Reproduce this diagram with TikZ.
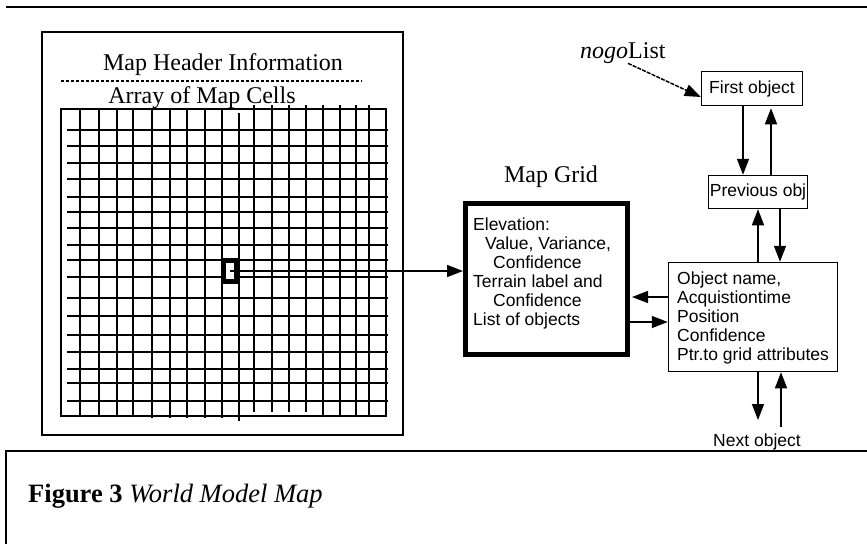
\documentclass[tikz,border=0pt]{standalone}
\usepackage{fontspec}
\setmainfont{Liberation Serif}
\setsansfont{Liberation Sans}
\usetikzlibrary{arrows.meta}
\begin{document}
\begin{tikzpicture}[x=1pt,y=-1pt,
  box/.style={draw, line width=1.5pt, inner sep=0pt},
  gridline/.style={line width=1.6pt},
  arr/.style={line width=1.5pt, -{Triangle[length=16pt,width=12pt]}},
  serif/.style={font=\fontsize{24}{28}\selectfont, inner sep=0pt},
  sans/.style={font=\sffamily\fontsize{17.5}{19}\selectfont, inner sep=0pt},
]
\useasboundingbox (0,0) rectangle (867,544);
% top rule
\draw[line width=2pt] (6,7) -- (867,7);
% map box
\node[box, minimum width=361pt, minimum height=403pt] (mapbox) at (222.5,233.5) {};
\node[serif, anchor=base] (hdr) at (223,70) {Map Header Information};
\draw[line width=1.3pt, dash pattern=on 2.5pt off 2.5pt] (61,81) -- (362,81);
\node[serif, anchor=base] (arrtxt) at (202,103) {Array of Map Cells};
% grid
\draw[gridline] (61,109) rectangle (386,416);
\foreach \x/\a/\b in {80/109/416,99/109/416,117/109/416,133/109/416,152/109/418,170/109/418,187/109/418,205/109/418,222/109/418,239/113/421,254/105/412,272/105/412,289/105/412,306/105/412,323/105/416,340/105/416,356/105/416,369/105/416}
  \draw[gridline] (\x,\a) -- (\x,\b);
\foreach \y in {130,146,163,179,197,212,228,245,260,277,298,316,335,352,369,383,401}
  \draw[gridline] (67,\y) -- (388,\y);
% selected cell
\node[draw, line width=4.5pt, fill=white, minimum width=12pt, minimum height=21pt, inner sep=0pt] (cell) at (230,271) {};
% map grid box
\node[draw, line width=5pt, minimum width=162pt, minimum height=151pt, inner sep=0pt] (mg) at (546.5,279) {};
\node[serif, anchor=base] (mgt) at (551,182) {Map Grid};
\foreach \i/\xx/\t in {1/473/{Elevation:},2/485/{Value, Variance,},3/493/{Confidence},4/473/{Terrain label and},5/493/{Confidence},6/473/{List of objects}}
  \node[sans, anchor=base west] (mg\i) at (\xx,{230+19*(\i-1)}) {\t};
\draw[arr] (cell.center) -- (mg.west |- cell.center);
% object box
\node[box, minimum width=169pt, minimum height=109pt] (obj) at (753,317) {};
\foreach \i/\t in {1/{Object name,},2/{Acquistiontime},3/{Position},4/{Confidence},5/{Ptr.to grid attributes}}
  \node[sans, anchor=base west] (obj\i) at (677,{284+19*(\i-1)}) {\t};
% list boxes
\node[box, sans, minimum width=101pt, minimum height=34pt] (first) at (752,88.5) {First object};
\node[box, sans, minimum width=99pt, minimum height=33pt] (prev) at (758,192) {Previous obj};
\node[serif, anchor=base west] (nogo) at (580,58) {\textit{nogo}List};
\draw[arr, dash pattern=on 4pt off 1.2pt] (nogo.south -| 628,0) -- (first.west |- 0,97);
\draw[arr] (first.south -| 743,0) -- (prev.north -| 743,0);
\draw[arr, shorten >=2pt] (prev.north -| 771,0) -- (first.south -| 771,0);
\draw[arr] (obj.north -| 758,0) -- (prev.south -| 758,0);
\draw[arr] (prev.south -| 780,0) -- (obj.north -| 780,0);
\draw[arr, shorten >=2pt] (obj.west |- 0,297) -- (mg.east |- 0,297);
\draw[arr] (mg.east |- 0,322) -- (obj.west |- 0,322);
\coordinate (nd) at (758,420);
\coordinate (nu) at (781,427);
\draw[arr] (obj.south -| nd) -- (nd);
\draw[arr] (nu) -- (obj.south -| nu);
\node[sans, anchor=base] (next) at (757,446) {Next object};
% caption
\draw[line width=1.8pt] (6,544) -- (6,451) -- (867,451);
\node[anchor=base west, inner sep=0pt, font=\fontsize{26.5}{30}\selectfont] (cap) at (28,502) {\textbf{Figure 3} \textit{World Model Map}};
\end{tikzpicture}
\end{document}
